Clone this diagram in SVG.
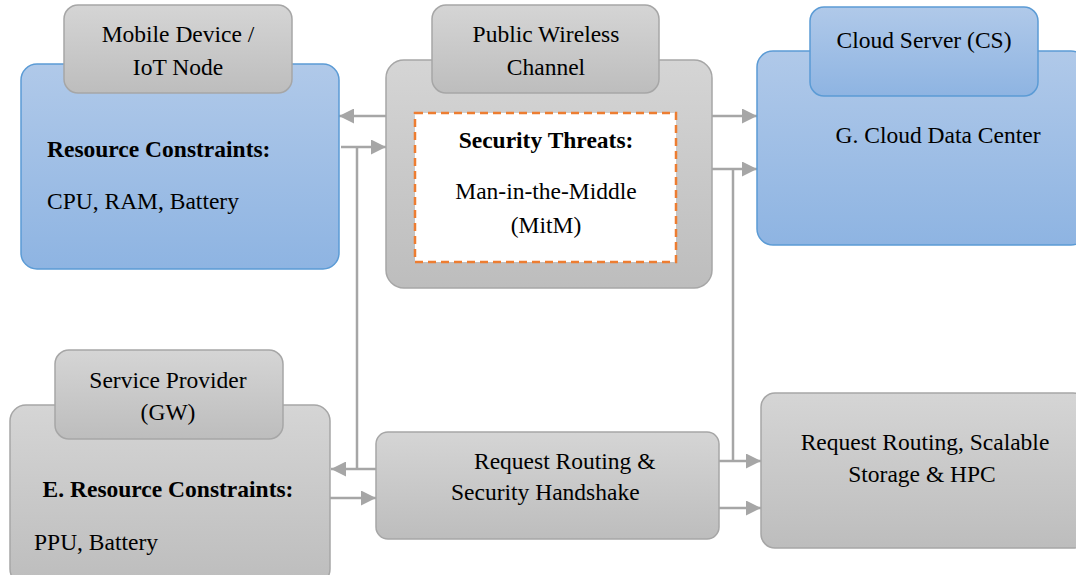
<svg xmlns="http://www.w3.org/2000/svg" width="1076" height="575" viewBox="0 0 1076 575">
<defs>
<linearGradient id="gGray" x1="0" y1="0" x2="0" y2="1"><stop offset="0" stop-color="#d5d5d5"/><stop offset="1" stop-color="#bdbdbd"/></linearGradient>
<linearGradient id="gBlue" x1="0" y1="0" x2="0" y2="1"><stop offset="0" stop-color="#b0c9e9"/><stop offset="1" stop-color="#8eb4e2"/></linearGradient>
<marker id="arr" markerUnits="userSpaceOnUse" markerWidth="16" markerHeight="15" refX="15" refY="7.5" orient="auto"><path d="M0,0 L15,7.5 L0,15 z" fill="#a6a6a6"/></marker>
<style>
.gray{fill:url(#gGray);stroke:#a6a6a6;stroke-width:1.5}
.blue{fill:url(#gBlue);stroke:#5b9bd5;stroke-width:1.5}
.t{font-family:'Liberation Serif','Times New Roman',serif;font-size:23.5px;fill:#000}
.b{font-weight:bold}
.c{text-anchor:middle}
.con{fill:none;stroke:#a6a6a6;stroke-width:2.5}
</style>
</defs>
<g id="connectors">
<path class="con" d="M386,116 L339,116" marker-end="url(#arr)"/>
<path class="con" d="M341,147 L386,147" marker-end="url(#arr)"/>
<path class="con" d="M357,147 L357,469"/>
<path class="con" d="M376,469 L331,469" marker-end="url(#arr)"/>
<path class="con" d="M330,498 L376,498" marker-end="url(#arr)"/>
<path class="con" d="M712,116 L757,116" marker-end="url(#arr)"/>
<path class="con" d="M712,169 L757,169" marker-end="url(#arr)"/>
<path class="con" d="M733,169 L733,461"/>
<path class="con" d="M719,461 L761,461" marker-end="url(#arr)"/>
<path class="con" d="M719,508 L761,508" marker-end="url(#arr)"/>
</g>
<g id="mobile-device">
<rect class="blue" x="21" y="64" width="318" height="205" rx="16"/>
<rect class="gray" x="64" y="5" width="228" height="88" rx="14"/>
<text class="t c" x="178" y="42">Mobile Device /</text>
<text class="t c" x="178" y="75">IoT Node</text>
<text class="t b" x="47" y="157">Resource Constraints:</text>
<text class="t" x="47" y="209">CPU, RAM, Battery</text>
</g>
<g id="public-wireless-channel">
<rect class="gray" x="386" y="60" width="326" height="228" rx="18"/>
<rect class="gray" x="432" y="5" width="227" height="88" rx="14"/>
<text class="t c" x="546" y="42">Public Wireless</text>
<text class="t c" x="546" y="75">Channel</text>
<rect x="415" y="113" width="261" height="149" fill="#ffffff" stroke="#ed7d31" stroke-width="2.5" stroke-dasharray="8,5"/>
<text class="t b c" x="546" y="148">Security Threats:</text>
<text class="t c" x="546" y="199">Man-in-the-Middle</text>
<text class="t c" x="546" y="233">(MitM)</text>
</g>
<g id="cloud-server">
<rect class="blue" x="757" y="51" width="330" height="194" rx="16"/>
<rect class="blue" x="810" y="7" width="228" height="89" rx="14"/>
<text class="t c" x="924" y="48">Cloud Server (CS)</text>
<text class="t c" x="938" y="143">G. Cloud Data Center</text>
</g>
<g id="service-provider">
<rect class="gray" x="10" y="405" width="320" height="180" rx="16"/>
<rect class="gray" x="55" y="350" width="228" height="89" rx="14"/>
<text class="t c" x="168" y="388">Service Provider</text>
<text class="t c" x="168" y="420">(GW)</text>
<text class="t b c" x="168" y="497">E. Resource Constraints:</text>
<text class="t" x="34" y="550">PPU, Battery</text>
</g>
<g id="request-routing-handshake">
<rect class="gray" x="376" y="432" width="343" height="107" rx="12"/>
<text class="t" x="474" y="469">Request Routing &amp;</text>
<text class="t" x="451" y="500">Security Handshake</text>
</g>
<g id="request-routing-storage">
<rect class="gray" x="761" y="393" width="326" height="155" rx="14"/>
<text class="t c" x="925" y="450">Request Routing, Scalable</text>
<text class="t c" x="922" y="482">Storage &amp; HPC</text>
</g>
</svg>
